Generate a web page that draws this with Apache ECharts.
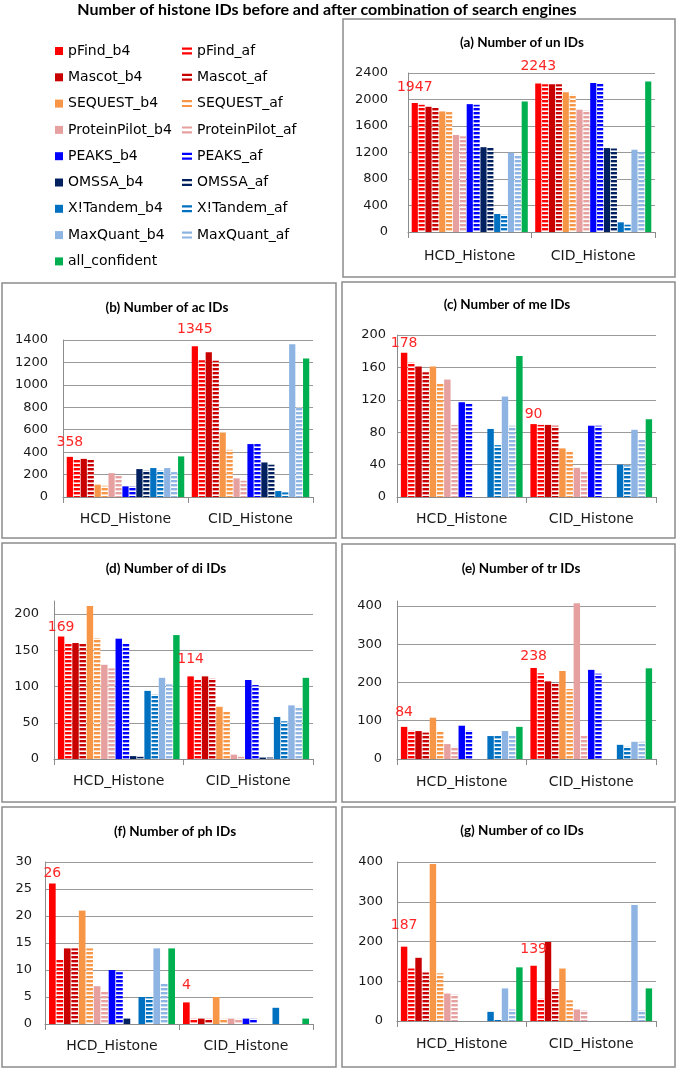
<!DOCTYPE html>
<html><head><meta charset="utf-8">
<script src="https://cdn.jsdelivr.net/npm/echarts@6/dist/echarts.min.js"></script>
<style>html,body{margin:0;padding:0;background:#fff}#c{width:677px;height:1069px}</style>
</head><body><div id="c"></div>
<script>
// ---------- data ----------
const categories = ['HCD_Histone', 'CID_Histone'];
const seriesNames = ['pFind_b4','pFind_af','Mascot_b4','Mascot_af','SEQUEST_b4','SEQUEST_af',
  'ProteinPilot_b4','ProteinPilot_af','PEAKS_b4','PEAKS_af','OMSSA_b4','OMSSA_af',
  'X!Tandem_b4','X!Tandem_af','MaxQuant_b4','MaxQuant_af','all_confident'];
const mainTitle = 'Number of histone IDs before and after combination of search engines';
const panelTitles = ['(a) Number of un IDs','(b) Number of ac IDs','(c) Number of me IDs',
  '(d) Number of di IDs','(e) Number of tr IDs','(f) Number of ph IDs','(g) Number of co IDs'];

const unHCD = [1947,1920,1890,1885,1820,1810,1464,1444,1930,1920,1280,1280,272,262,1197,1167,1971];
const unCID = [2243,2230,2230,2230,2110,2072,1846,1836,2248,2233,1267,1260,146,110,1242,1212,2273];
const acHCD = [358,330,340,330,110,100,213,195,95,95,249,237,258,237,258,222,362];
const acCID = [1345,1220,1290,1216,575,421,166,145,472,472,308,288,53,41,1361,798,1234];
const meHCD = [178,166,161,154,161,140,145,89,117,115,0,0,84,64,124,88,174];
const meCID = [90,89,89,88,60,57,36,32,88,88,0,0,40,39,83,71,96];
const diHCD = [169,160,160,160,211,167,130,125,166,160,4,3,94,89,112,103,171];
const diCID = [114,110,114,111,72,66,6,3,109,102,2,2,58,52,74,72,112];
const trHCD = [84,74,73,69,108,73,39,32,87,74,0,0,60,60,73,60,84];
const trCID = [238,224,203,196,230,183,407,60,233,223,0,0,37,32,45,45,237];
const phHCD = [26,12,14,14,21,14,7,6,10,9.6,1,0,5,5,14,7.6,14];
const phCID = [4,1,1,1,5,1,1,1,1,1,0,0,3,0,0,0,1];
const coHCD = [187,132,159,122,395,120,69,67,0,0,0,0,23,4,82,29,135];
const coCID = [139,56,199,80,132,52,29,27,0,0,0,0,0,0,292,27,82];

const axisMax  = [2400,1400,200,218,413,30,400];
const axisStep = [400,200,40,50,100,5,100];

// ---------- styling / layout ----------
const panelData = [[unHCD,unCID],[acHCD,acCID],[meHCD,meCID],[diHCD,diCID],[trHCD,trCID],[phHCD,phCID],[coHCD,coCID]];
const baseColors = ['#FF0000','#FF0000','#C80000','#C80000','#F79646','#F79646','#E6A0A0','#E6A0A0',
  '#0000FF','#0000FF','#002060','#002060','#0070C0','#0070C0','#8DB4E2','#8DB4E2','#00B050'];
const layout = [
  {box:[343,19,332,258], title:[522,43],  grid:[408,73,247,159],  ym:20, xm:17},
  {box:[2,283,334,255],  title:[167,308], grid:[63,340,250,157],  ym:15, xm:15},
  {box:[342,282,333,256],title:[507,305], grid:[397,335,259,162], ym:11, xm:15},
  {box:[2,543,334,259],  title:[166,569], grid:[54,601,259,158],  ym:15, xm:15},
  {box:[342,544,333,258],title:[521,569], grid:[397,601,259,158], ym:15, xm:16},
  {box:[2,807,334,260],  title:[175,832], grid:[45,862,268,162],  ym:13, xm:15},
  {box:[342,807,333,260],title:[522,831], grid:[397,862,259,159], ym:14, xm:16}
];
const labelLift = [[9,10],[7,10],[2,3],[2,10],[8,5],[3,10],[14,9]];

function stripes(color) {
  const c = document.createElement('canvas');
  c.width = 4; c.height = 4;
  const g = c.getContext('2d');
  g.fillStyle = '#ffffff'; g.fillRect(0, 0, 4, 4);
  g.fillStyle = color; g.fillRect(0, 0, 4, 2.4);
  return { image: c, repeat: 'repeat' };
}

const FONT = 'DejaVu Sans';
const grids = [], xAxes = [], yAxes = [], series = [], graphics = [];

graphics.push({type:'text', x:327, y:10, style:{text:mainTitle, align:'center', verticalAlign:'middle',
  font:'bold 16px Lato', fill:'#000'}});

layout.forEach((L, p) => {
  graphics.push({type:'rect', shape:{x:L.box[0], y:L.box[1], width:L.box[2], height:L.box[3]},
    style:{fill:'none', stroke:'#8c8c8c', lineWidth:1.5}, z:0});
  graphics.push({type:'text', x:L.title[0], y:L.title[1], style:{text:panelTitles[p], align:'center',
    verticalAlign:'middle', font:'bold 13.5px Lato', fill:'#000'}});
  grids.push({left:L.grid[0], top:L.grid[1], width:L.grid[2], height:L.grid[3], outerBoundsMode:'none', containLabel:false});
  xAxes.push({type:'category', gridIndex:p, data:categories,
    axisLine:{lineStyle:{color:'#8c8c8c', width:1}},
    axisTick:{show:true, length:6, lineStyle:{color:'#8c8c8c'}},
    axisLabel:{fontFamily:FONT, fontSize:14, color:'#1a1a1a', margin:L.xm}});
  yAxes.push({type:'value', gridIndex:p, min:0, max:axisMax[p], interval:axisStep[p],
    axisLine:{show:true, lineStyle:{color:'#8c8c8c', width:1}},
    axisTick:{show:false},
    axisLabel:{fontFamily:FONT, fontSize:13, color:'#1a1a1a', margin:L.ym,
      formatter: v => String(v),
      showMaxLabel: axisMax[p] % axisStep[p] === 0},
    splitLine:{show:true, showMaxLine: axisMax[p] % axisStep[p] === 0, lineStyle:{color:'#9a9a9a', width:1}}});
  const [hcd, cid] = panelData[p];
  seriesNames.forEach((name, s) => {
    const isAf = name.endsWith('_af');
    const vals = [hcd[s], cid[s]];
    const ser = {
      type:'bar', name, xAxisIndex:p, yAxisIndex:p,
      barGap:'12%', barCategoryGap:'6%',
      itemStyle:{color: isAf ? stripes(baseColors[s]) : baseColors[s]},
      emphasis:{disabled:true},
      data: vals.map((v, c) => s === 0 ? {value:v, label:{distance:labelLift[p][c]}} : v)
    };
    if (s === 0) {
      ser.label = {show:true, position:'top', color:'#FF2626', fontFamily:FONT, fontSize:14};
    }
    series.push(ser);
  });
});

const b4Names = seriesNames.filter(n => !n.endsWith('_af'));
const afNames = seriesNames.filter(n => n.endsWith('_af'));
const legendText = {fontFamily:FONT, fontSize:14, color:'#000', lineHeight:16};

const option = {
  animation:false,
  backgroundColor:'#fff',
  legend:[
    {left:50, top:38, orient:'vertical', itemWidth:8, itemHeight:8, itemGap:10.3, selectedMode:false,
      textStyle:legendText,
      data:b4Names.map(n => ({name:n, icon:'rect', itemStyle:{color:baseColors[seriesNames.indexOf(n)]}}))},
    {left:177, top:38, orient:'vertical', itemWidth:10, itemHeight:7, itemGap:10.3, selectedMode:false,
      textStyle:legendText,
      data:afNames.map(n => ({name:n, icon:'path://M0 0H10V2.2H0ZM0 4.8H10V7H0Z',
        itemStyle:{color:baseColors[seriesNames.indexOf(n)]}}))}
  ],
  grid:grids, xAxis:xAxes, yAxis:yAxes, series, graphic:graphics
};

const chart = echarts.init(document.getElementById('c'), null, {renderer:'canvas'});
chart.setOption(option);
</script></body></html>
